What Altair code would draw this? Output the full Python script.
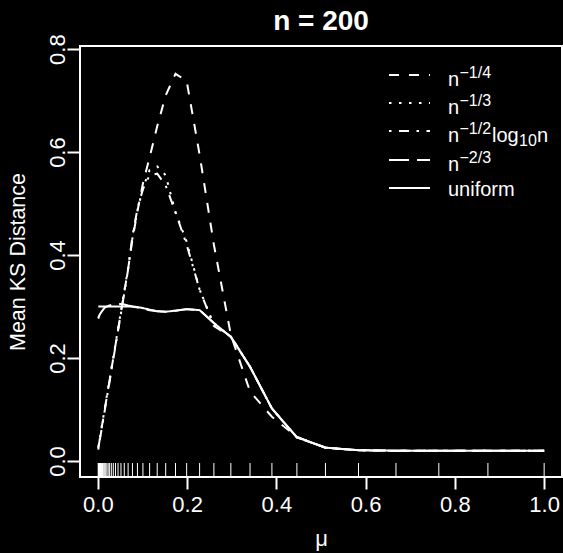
import altair as alt
import pandas as pd

# grid of mu values (rug positions)
mu = [1.0, 0.874, 0.764, 0.668, 0.584, 0.510, 0.446, 0.390, 0.341, 0.298,
      0.260, 0.228, 0.199, 0.174, 0.152, 0.133, 0.116, 0.101, 0.0887, 0.0775,
      0.0678, 0.0592, 0.0518, 0.0452, 0.0395, 0.0346, 0.0302, 0.0264, 0.0231, 0.0202,
      0.0176, 0.0154, 0.0135, 0.0118, 0.0103, 0.0090, 0.0079, 0.0069, 0.0060, 0.0052,
      0.0046, 0.0040, 0.0035, 0.0031, 0.0027, 0.0023, 0.0020, 0.0018, 0.0016, 0.0014,
      0.0012, 0.0010]

ks_quarter = [0.020, 0.020, 0.020, 0.020, 0.021, 0.026, 0.047, 0.086, 0.135, 0.245,
              0.420, 0.595, 0.738, 0.752, 0.710, 0.650, 0.590, 0.539, 0.485, 0.430,
              0.373, 0.328, 0.289, 0.255, 0.225, 0.200, 0.177, 0.157, 0.140, 0.125,
              0.112, 0.100, 0.090, 0.081, 0.074, 0.067, 0.061, 0.056, 0.051, 0.047,
              0.044, 0.041, 0.038, 0.036, 0.034, 0.032, 0.030, 0.029, 0.028, 0.027,
              0.026, 0.025]

ks_third = [0.020, 0.020, 0.020, 0.020, 0.021, 0.026, 0.046, 0.102, 0.183, 0.242,
            0.265, 0.333, 0.426, 0.483, 0.555, 0.572, 0.565, 0.530, 0.487, 0.433,
            0.375, 0.330, 0.291, 0.257, 0.227, 0.202, 0.179, 0.159, 0.142, 0.127,
            0.114, 0.102, 0.092, 0.083, 0.076, 0.069, 0.063, 0.058, 0.053, 0.049,
            0.046, 0.043, 0.040, 0.038, 0.036, 0.034, 0.032, 0.031, 0.030, 0.029,
            0.028, 0.027]

ks_halflog = [0.020, 0.020, 0.020, 0.020, 0.021, 0.026, 0.046, 0.102, 0.183, 0.242,
              0.262, 0.333, 0.420, 0.483, 0.535, 0.558, 0.555, 0.528, 0.490, 0.437,
              0.372, 0.326, 0.287, 0.253, 0.223, 0.198, 0.175, 0.155, 0.138, 0.123,
              0.110, 0.098, 0.088, 0.079, 0.072, 0.065, 0.059, 0.054, 0.049, 0.045,
              0.042, 0.039, 0.036, 0.034, 0.032, 0.030, 0.028, 0.027, 0.026, 0.025,
              0.024, 0.022]

ks_twothirds = [0.020, 0.020, 0.020, 0.020, 0.021, 0.026, 0.046, 0.102, 0.183, 0.241,
                0.268, 0.293, 0.295, 0.292, 0.290, 0.291, 0.293, 0.296, 0.298, 0.300,
                0.302, 0.304, 0.305, 0.305, 0.305, 0.304, 0.303, 0.302, 0.301, 0.300,
                0.299, 0.298, 0.296, 0.294, 0.292, 0.291, 0.289, 0.288, 0.287, 0.286,
                0.285, 0.284, 0.283, 0.282, 0.281, 0.281, 0.280, 0.279, 0.279, 0.278,
                0.278, 0.277]

ks_uniform = [0.020, 0.020, 0.020, 0.020, 0.021, 0.026, 0.046, 0.102, 0.183, 0.241,
              0.268, 0.293, 0.295, 0.292, 0.290, 0.291, 0.294, 0.297, 0.299, 0.300,
              0.300, 0.300, 0.300, 0.300, 0.300, 0.300, 0.300, 0.300, 0.300, 0.300,
              0.300, 0.300, 0.300, 0.300, 0.300, 0.300, 0.300, 0.300, 0.300, 0.300,
              0.300, 0.300, 0.300, 0.300, 0.300, 0.300, 0.300, 0.300, 0.300, 0.300,
              0.300, 0.300]

series_names = ["q", "t", "hl", "tt", "u"]
series_values = [ks_quarter, ks_third, ks_halflog, ks_twothirds, ks_uniform]
dash_patterns = [[10, 10], [2.5, 7.5], [2.5, 7.5, 10, 7.5], [20, 8], [1, 0]]

x_ticks = [0.0, 0.2, 0.4, 0.6, 0.8, 1.0]
y_ticks = [0.0, 0.2, 0.4, 0.6, 0.8]

rows = []
for name, vals in zip(series_names, series_values):
    for m, v in zip(mu, vals):
        rows.append({"mu": m, "ks": v, "series": name})
df = pd.DataFrame(rows)
rug = pd.DataFrame({"mu": mu})

W, H = 482, 431
FONT = "Liberation Sans"

xscale = alt.Scale(domain=[-0.04, 1.04], nice=False, zero=False)
yscale = alt.Scale(domain=[-0.031, 0.806], nice=False, zero=False)

xaxis = alt.Axis(values=x_ticks, format=".1f", domain=False, grid=False,
                 tickColor="white", tickSize=12, tickWidth=2,
                 labelColor="white", labelFont=FONT, labelFontSize=22,
                 labelPadding=5, labelFlush=False,
                 title="μ", titleColor="white", titleFont=FONT, titleFontSize=22,
                 titleFontWeight="normal", titleY=68, titleBaseline="alphabetic")
yaxis = alt.Axis(values=y_ticks, format=".1f", domain=False, grid=False,
                 tickColor="white", tickSize=13, tickWidth=2,
                 labelColor="white", labelFont=FONT, labelFontSize=22,
                 labelAngle=270, labelAlign="center", labelBaseline="alphabetic",
                 labelPadding=3, labelFlush=False,
                 title="Mean KS Distance", titleColor="white", titleFont=FONT,
                 titleFontSize=21.5, titleFontWeight="normal", titleAngle=270,
                 titleX=-62, titleY=H / 2, titleAlign="center", titleBaseline="middle")

lines = alt.Chart(df).mark_line(color="white", strokeWidth=2, strokeCap="butt").encode(
    x=alt.X("mu:Q", scale=xscale, axis=xaxis),
    y=alt.Y("ks:Q", scale=yscale, axis=yaxis),
    strokeDash=alt.StrokeDash("series:N", scale=alt.Scale(domain=series_names, range=dash_patterns), legend=None),
    detail="series:N",
)

rug_layer = alt.Chart(rug).mark_rule(color="white", strokeWidth=1).encode(
    x=alt.X("mu:Q", scale=xscale),
    y=alt.value(H - 14),
    y2=alt.value(H),
)

title_layer = alt.Chart(pd.DataFrame({"t": ["n = 200"]})).mark_text(
    color="white", font=FONT, fontSize=28, fontWeight="bold", align="center", baseline="alphabetic"
).encode(text="t:N", x=alt.value(W / 2), y=alt.value(-16))

# manual legend
legend_layers = []
row_y = [29, 57, 85, 114, 142]
for i, name in enumerate(series_names):
    legend_layers.append(
        alt.Chart(pd.DataFrame({"s": [name]})).mark_rule(color="white", strokeWidth=2, strokeCap="butt").encode(
            x=alt.value(309), x2=alt.value(350), y=alt.value(row_y[i]),
            strokeDash=alt.StrokeDash("s:N", scale=alt.Scale(domain=series_names, range=dash_patterns), legend=None),
        )
    )

def txt(s, x, y, size):
    return alt.Chart(pd.DataFrame({"t": [s]})).mark_text(
        color="white", font=FONT, fontSize=size, align="left", baseline="alphabetic"
    ).encode(text="t:N", x=alt.value(x), y=alt.value(y))

sup_labels = ["\u22121/4", "\u22121/3", "\u22121/2", "\u22122/3"]
text_layers = []
for i in range(4):
    base = row_y[i] + 11
    text_layers.append(txt("n", 368, base, 20))
    text_layers.append(txt(sup_labels[i], 379.5, base - 8, 16))
text_layers.append(txt("log", 412, row_y[2] + 11, 20))
text_layers.append(txt("10", 439, row_y[2] + 15, 16))
text_layers.append(txt("n", 457, row_y[2] + 11, 20))
text_layers.append(txt("uniform", 368, row_y[4] + 8, 20))

chart = alt.layer(rug_layer, lines, title_layer, *legend_layers, *text_layers).properties(
    width=W, height=H,
    background="black",
    padding={"left": 80, "top": 46, "right": 1, "bottom": 76},
    autosize=alt.AutoSizeParams(type="none"),
).configure_view(stroke="white", strokeWidth=2)

chart.save("out.html", embed_options={"renderer": "svg", "actions": False})
